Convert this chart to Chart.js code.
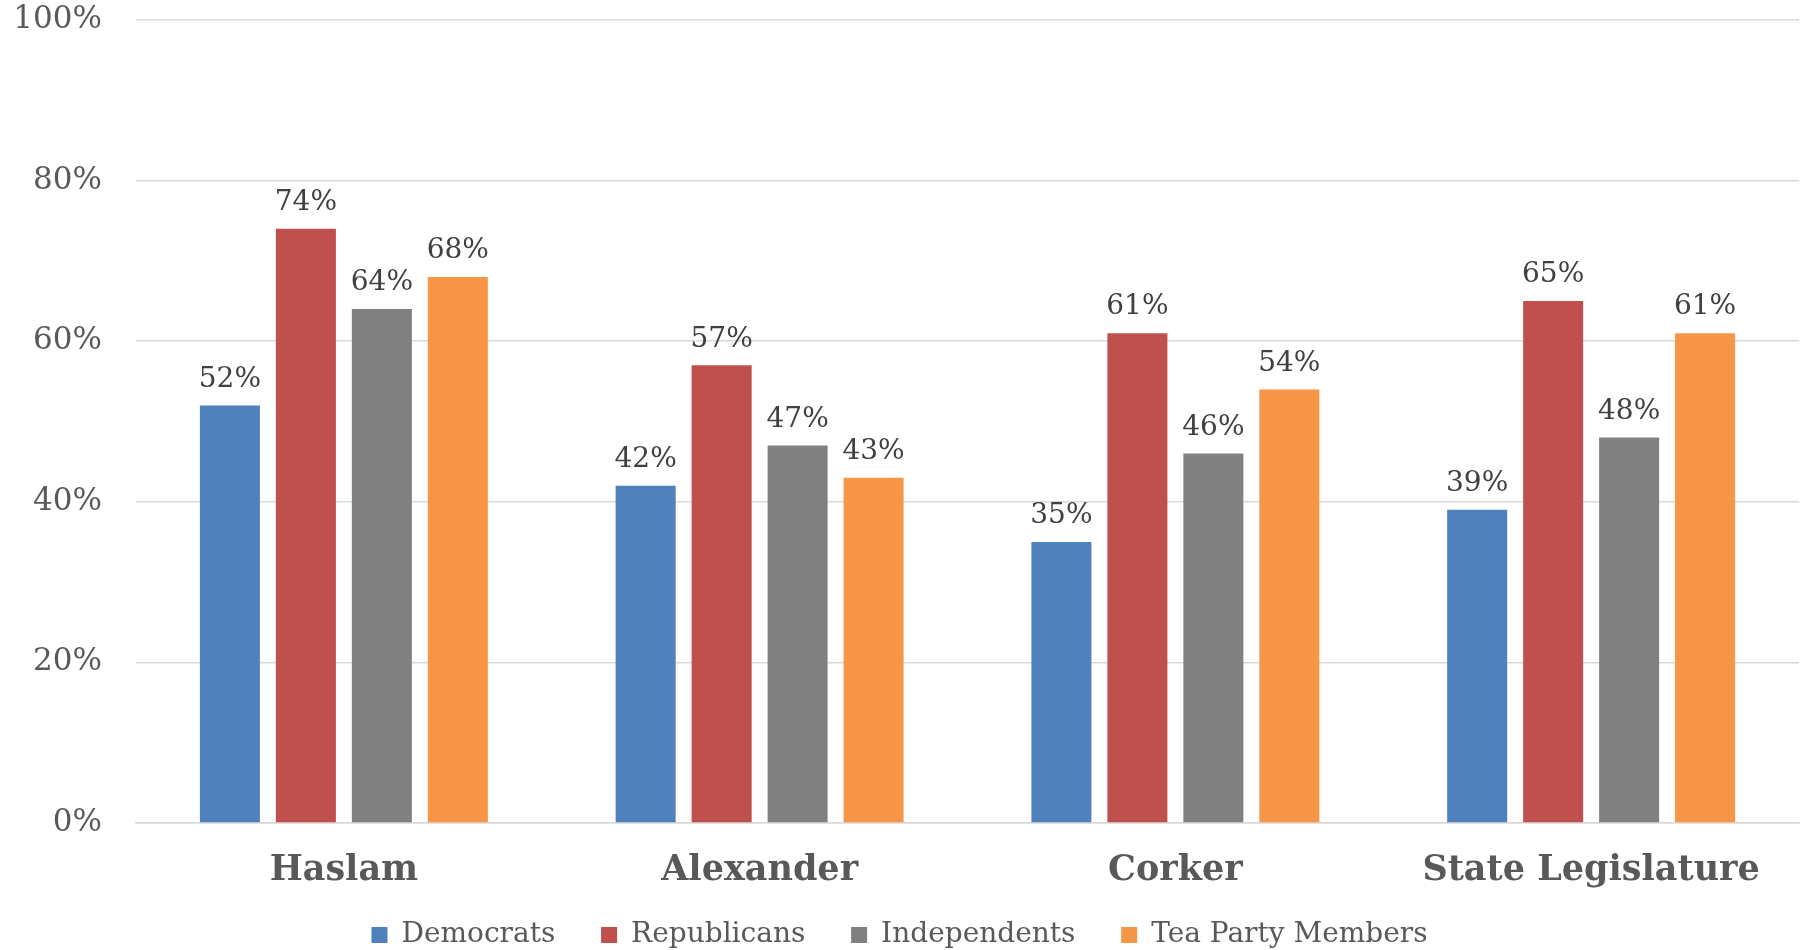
<!DOCTYPE html>
<html>
<head>
<meta charset="utf-8">
<script src="https://cdn.jsdelivr.net/npm/chart.js@4/dist/chart.umd.min.js"></script>
<style>
  html, body { margin: 0; padding: 0; background: #fff; }
  #wrap { width: 1812px; height: 950px; }
</style>
</head>
<body>
<div id="wrap"><canvas id="pollChart" width="1812" height="950"></canvas></div>
<script>
const categories = ['Haslam', 'Alexander', 'Corker', 'State Legislature'];
const democrats = [52, 42, 35, 39];
const republicans = [74, 57, 61, 65];
const independents = [64, 47, 46, 48];
const teaParty = [68, 43, 54, 61];
const yTicks = [0, 20, 40, 60, 80, 100];

const serif = "'DejaVu Serif', Georgia, serif";

// draw the value above every bar
const barLabels = {
    id: 'barLabels',
    afterDatasetsDraw(chart) {
        const ctx = chart.ctx;
        ctx.save();
        ctx.font = '28px ' + serif;
        ctx.fillStyle = '#404040';
        ctx.textAlign = 'center';
        ctx.textBaseline = 'middle';
        chart.data.datasets.forEach((ds, i) => {
            chart.getDatasetMeta(i).data.forEach((bar, j) => {
                ctx.fillText(ds.data[j] + '%', bar.x, bar.y - 26);
            });
        });
        ctx.restore();
    }
};

const ctx = document.getElementById('pollChart').getContext('2d');
new Chart(ctx, {
    type: 'bar',
    data: {
        labels: categories,
        datasets: [
            { label: 'Democrats', data: democrats, backgroundColor: '#4F81BD' },
            { label: 'Republicans', data: republicans, backgroundColor: '#C0504D' },
            { label: 'Independents', data: independents, backgroundColor: '#808080' },
            { label: 'Tea Party Members', data: teaParty, backgroundColor: '#F79646' }
        ]
    },
    options: {
        responsive: false,
        animation: false,
        layout: { padding: { top: 20, right: 13, left: 0, bottom: -9 } },
        categoryPercentage: 0.731,
        barPercentage: 0.79,
        plugins: {
            legend: {
                position: 'bottom',
                labels: {
                    font: { family: serif, size: 28 },
                    color: '#595959',
                    boxWidth: 16,
                    boxHeight: 16,
                    padding: 28,
                    // a little extra room after each name except the last
                    generateLabels(chart) {
                        const items = Chart.defaults.plugins.legend.labels.generateLabels(chart);
                        items.forEach((it, i) => {
                            if (i < items.length - 1) it.text = it.text + '  ';
                        });
                        return items;
                    }
                }
            },
            tooltip: { enabled: false }
        },
        scales: {
            y: {
                min: 0,
                max: 100,
                afterBuildTicks(scale) {
                    scale.ticks = yTicks.map(v => ({ value: v }));
                },
                afterFit(scale) {
                    scale.width = 136;
                    scale.paddingTop = 0;
                    scale.paddingBottom = 0;
                },
                ticks: {
                    callback: v => v + '%',
                    font: { family: serif, size: 31 },
                    color: '#595959',
                    padding: 34
                },
                grid: { color: '#d9d9d9', lineWidth: 1.5, drawTicks: false },
                border: { display: false }
            },
            x: {
                afterFit(scale) { scale.height = 70; },
                ticks: {
                    font: { family: serif, size: 35, weight: 'bold' },
                    color: '#595959',
                    padding: 27
                },
                grid: { display: false, drawTicks: false },
                border: { color: '#d9d9d9', width: 1.5 }
            }
        }
    },
    plugins: [barLabels]
});
</script>
</body>
</html>
